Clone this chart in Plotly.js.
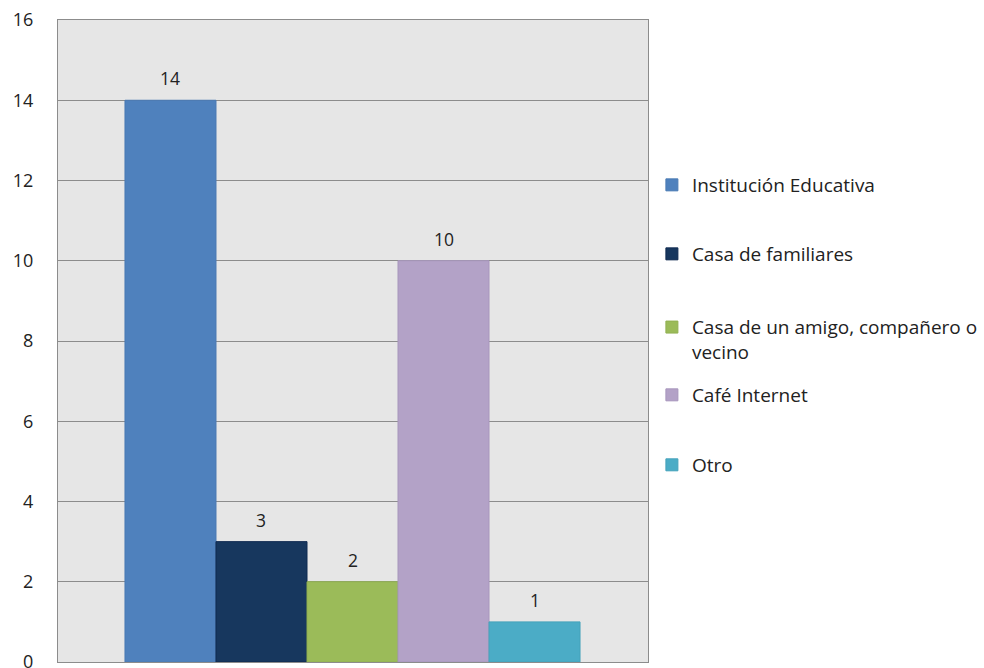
<!DOCTYPE html>
<html>
<head>
<meta charset="utf-8">
<script src="https://cdn.plot.ly/plotly-3.0.1.min.js"></script>
<style>html,body{margin:0;padding:0;background:#fff;}#chart{width:984px;height:668px;}</style>
</head>
<body>
<div id="chart"></div>
<script>
const categories = ["Institución Educativa", "Casa de familiares", "Casa de un amigo, compañero o<br>vecino", "Café Internet", "Otro"];
const values = [14, 3, 2, 10, 1];
const colors = ["#4f81bd", "#17375e", "#9bbb59", "#b3a2c7", "#4bacc6"];
const lineColors = ["#4a7ab3", "#0f2a50", "#91b052", "#a796bc", "#45a2bb"];
const yTicks = [0, 2, 4, 6, 8, 10, 12, 14, 16];
const legendY = [0.743, 0.6355, 0.502, 0.4159, 0.3069];

const FONT = "'Open Sans', 'Noto Sans', sans-serif";

const traces = categories.map((c, i) => ({
  type: "bar",
  name: c,
  x: [i],
  y: [values[i]],
  width: [1],
  marker: { color: colors[i], line: { color: lineColors[i], width: 1 } },
  legend: i === 0 ? "legend" : "legend" + (i + 1),
  hoverinfo: "skip"
}));

const annotations = values.map((v, i) => ({
  x: i, y: v, xref: "x", yref: "y",
  text: String(v), showarrow: false,
  yanchor: "middle", yshift: 22,
  font: { family: FONT, size: 17.5, color: "#222" }
}));

const layout = {
  width: 984, height: 668,
  margin: { l: 58, r: 336, t: 20, b: 6, pad: 0, autoexpand: false },
  paper_bgcolor: "#ffffff",
  plot_bgcolor: "#e6e6e6",
  font: { family: FONT, size: 17, color: "#222" },
  showlegend: true,
  xaxis: {
    range: [-1.236, 5.247],
    showticklabels: false, ticks: "", showgrid: false, zeroline: false,
    showline: true, linecolor: "#8c8c8c", linewidth: 1, mirror: true,
    fixedrange: true
  },
  yaxis: {
    range: [0, 16],
    tickvals: yTicks, ticktext: yTicks.map(String),
    showgrid: true, gridcolor: "#8c8c8c", gridwidth: 1,
    zeroline: false,
    showline: true, linecolor: "#8c8c8c", linewidth: 1, mirror: true,
    ticks: "outside", ticklen: 20, tickcolor: "rgba(0,0,0,0)",
    ticklabeloverflow: "allow",
    tickfont: { family: FONT, size: 18, color: "#222" },
    fixedrange: true
  },
  annotations: annotations,
  bargap: 0
};

legendY.forEach((y, i) => {
  layout[i === 0 ? "legend" : "legend" + (i + 1)] = {
    x: 1.0066, xanchor: "left", y: y, yanchor: "middle",
    valign: "top",
    font: { family: FONT, size: 19, color: "#222" },
    bgcolor: "rgba(0,0,0,0)"
  };
});

Plotly.newPlot("chart", traces, layout, { displayModeBar: false, staticPlot: true });
</script>
</body>
</html>
